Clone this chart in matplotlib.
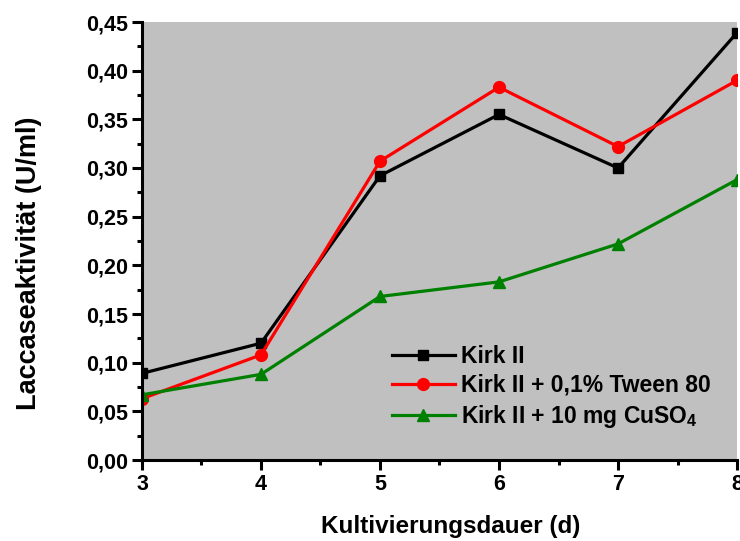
import matplotlib
matplotlib.use("Agg")
import matplotlib.pyplot as plt
from matplotlib.ticker import MultipleLocator, FuncFormatter

plt.rcParams['font.family'] = ['Liberation Sans', 'DejaVu Sans']
plt.rcParams['font.weight'] = 'bold'
plt.rcParams['mathtext.fontset'] = 'custom'
plt.rcParams['mathtext.rm'] = 'Liberation Sans:bold'
plt.rcParams['mathtext.bf'] = 'Liberation Sans:bold'

days = [3, 4, 5, 6, 7, 8]
kirk = [0.089, 0.120, 0.292, 0.355, 0.300, 0.439]
tween = [0.063, 0.108, 0.307, 0.383, 0.322, 0.390]
cuso4 = [0.067, 0.088, 0.168, 0.183, 0.222, 0.288]
labels = ["Kirk II", "Kirk II + 0,1% Tween 80", r"Kirk II + 10 mg CuSO$_\mathbf{4}$"]
xlabel = "Kultivierungsdauer (d)"
ylabel = "Laccaseaktivität (U/ml)"

W, H = 740, 541
fig = plt.figure(figsize=(W / 100, H / 100), dpi=100)
ax = fig.add_axes([142 / W, 1 - 460 / H, (737 - 142) / W, (460 - 22) / H])
ax.set_facecolor('#c0c0c0')

ax.plot(days, kirk, color='black', marker='s', lw=2.3, ms=7.5, label=labels[0])
ax.plot(days, tween, color='red', marker='o', lw=2.3, ms=8.5, label=labels[1])
ax.plot(days, cuso4, color='green', marker='^', lw=2.3, ms=8.5, label=labels[2])

ax.set_xlim(3, 8)
ax.set_ylim(0, 0.45)
ax.xaxis.set_major_locator(MultipleLocator(1))
ax.xaxis.set_minor_locator(MultipleLocator(0.5))
ax.yaxis.set_major_locator(MultipleLocator(0.05))
ax.yaxis.set_minor_locator(MultipleLocator(0.025))
ax.yaxis.set_major_formatter(FuncFormatter(lambda v, p: f"{v:.2f}".replace('.', ',')))

for s in ['top', 'right']:
    ax.spines[s].set_visible(False)
for s in ['left', 'bottom']:
    ax.spines[s].set_linewidth(2.2)
ax.tick_params(which='major', direction='out', length=7.2, width=2.2, labelsize=15.5, pad=3)
ax.tick_params(which='minor', direction='out', length=3.6, width=2.2)
for lab in ax.get_xticklabels() + ax.get_yticklabels():
    lab.set_fontweight('bold')

fig.text(451 / W, 1 - 533 / H, xlabel, fontsize=17.5, fontweight='bold',
         ha='center', va='baseline')
fig.text(29 / W, 1 - 263 / H, ylabel, fontsize=19.5, fontweight='bold',
         ha='center', va='center', rotation=90)

leg = ax.legend(loc='center left', bbox_to_anchor=(0.42, 0.166), frameon=False,
                prop={'size': 16.5, 'weight': 'bold'}, handlelength=2.75,
                handletextpad=0.27, labelspacing=0.27, borderpad=0, borderaxespad=0)

fig.savefig("out.png", dpi=100)
